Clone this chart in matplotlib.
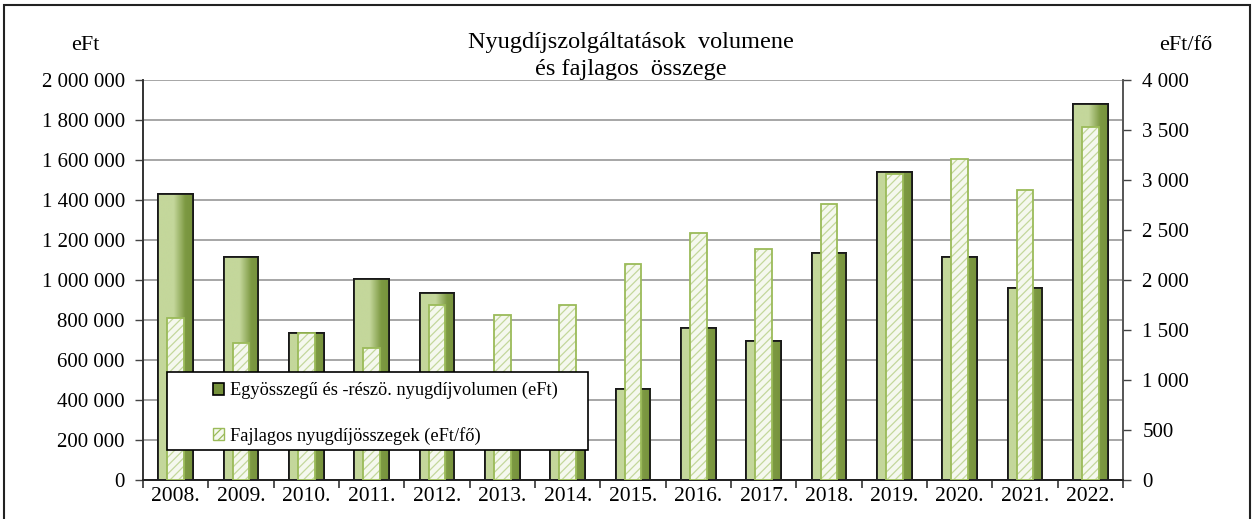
import numpy as np
import matplotlib
matplotlib.use("Agg")
import matplotlib.pyplot as plt
from matplotlib.patches import Patch, Rectangle
from matplotlib.colors import LinearSegmentedColormap
from matplotlib.ticker import FuncFormatter, FixedLocator

# ---- data ----
years = ["2008.", "2009.", "2010.", "2011.", "2012.", "2013.", "2014.", "2015.",
         "2016.", "2017.", "2018.", "2019.", "2020.", "2021.", "2022."]
volume_eft = [1428000, 1113000, 737000, 1003000, 937000, 420000, 372000, 455000,
              758000, 695000, 1137000, 1542000, 1113000, 958000, 1880000]
per_capita_eft = [1617, 1373, 1467, 1323, 1755, 1650, 1750, 2160,
                  2467, 2307, 2757, 3065, 3210, 2905, 3535]
left_ticks = [0, 200000, 400000, 600000, 800000, 1000000, 1200000, 1400000,
              1600000, 1800000, 2000000]
right_ticks = [0, 500, 1000, 1500, 2000, 2500, 3000, 3500, 4000]
title_text = "Nyugdíjszolgáltatások  volumene\nés fajlagos  összege"
label_volume = "Egyösszegű és -részö. nyugdíjvolumen (eFt)"
label_per_capita = "Fajlagos nyugdíjösszegek (eFt/fő)"

plt.rcParams['font.family'] = ['Liberation Serif', 'DejaVu Serif']
plt.rcParams['hatch.linewidth'] = 0.9

W, H, DPI = 1253, 519, 100
fig = plt.figure(figsize=(W / DPI, H / DPI), dpi=DPI)
fig.patch.set_facecolor('white')

ax = fig.add_axes([143 / W, (H - 480) / H, (1123 - 143) / W, 400 / H])
ax2 = ax.twinx()

x = np.arange(len(years))
light = '#c4d79b'
dark = '#76923c'
cmap = LinearSegmentedColormap.from_list(
    'g', [(0, light), (0.45, light), (0.78, '#7d9942'), (1, dark)])

bars = ax.bar(x, volume_eft, width=0.53, facecolor=light, edgecolor='black',
              linewidth=1.3, zorder=2)
grad = np.linspace(0, 1, 256).reshape(1, -1)
for r in bars:
    bb = r.get_bbox()
    im = ax.imshow(grad, extent=(bb.x0, bb.x1, bb.y0, bb.y1), aspect='auto',
                   cmap=cmap, zorder=2.1, interpolation='bilinear')
    im.set_clip_path(r)
for r in bars:
    ax.add_patch(Rectangle((r.get_x(), r.get_y()), r.get_width(), r.get_height(),
                           fill=False, edgecolor='#1a1a1a', linewidth=1.3, zorder=2.2))

fmt = FuncFormatter(lambda v, p: f"{int(v):,}".replace(",", " "))
ax.set_xlim(-0.5, len(years) - 0.5)
ax.set_ylim(0, 2000000)
ax.set_yticks(left_ticks)
ax.yaxis.set_major_formatter(fmt)
ax.yaxis.grid(True, color='#a6a6a6', linewidth=1.4, zorder=0)
ax.set_axisbelow(True)

ax.set_xticks(x)
ax.set_xticklabels(years)
ax.xaxis.set_minor_locator(FixedLocator(np.arange(-0.5, len(years), 1.0)))
ax.tick_params(axis='x', which='major', length=0, pad=5, labelsize=15.5)
ax.tick_params(axis='x', which='minor', length=6, width=1.2, color='#333333',
               direction='out')
ax.tick_params(axis='y', length=6, width=1.0, color='#444444', direction='out',
               labelsize=15, pad=7)

# secondary axis: per capita (hatched)
ax2.bar(x, per_capita_eft, width=0.26, facecolor='#f5f8ee', edgecolor=light,
        hatch='////', linewidth=0, zorder=3)
ax2.bar(x, per_capita_eft, width=0.26, fill=False, edgecolor='#9bbb59',
        linewidth=1.3, zorder=3.1)
ax2.set_ylim(0, 4000)
ax2.set_yticks(right_ticks)
ax2.yaxis.set_major_formatter(fmt)
ax2.tick_params(axis='y', length=6, width=1.0, color='#444444', direction='out',
                labelsize=15, pad=8)

for a in (ax, ax2):
    a.spines['top'].set_visible(False)
    a.spines['left'].set_color('#333333')
    a.spines['right'].set_color('#555555')
    a.spines['bottom'].set_color('#222222')
    a.spines['left'].set_linewidth(1.2)
    a.spines['right'].set_linewidth(1.2)
    a.spines['bottom'].set_linewidth(1.3)

# legend: white framed box with centred entries
x0 = (167 - 143) / 980
x1 = (588 - 143) / 980
y0 = (480 - 450) / 400
y1 = (480 - 372) / 400
ax2.add_patch(Rectangle((x0, y0), x1 - x0, y1 - y0, transform=ax2.transAxes,
                        facecolor='white', edgecolor='black', linewidth=1.2,
                        zorder=9))
handles = [Patch(facecolor=dark, edgecolor='black', linewidth=1.2, label=label_volume),
           Patch(facecolor='#f5f8ee', edgecolor='#9bbb59', hatch='////', linewidth=1.0,
                 label=label_per_capita)]
leg = ax2.legend(handles=handles, loc='center',
                 bbox_to_anchor=((x0 + x1) / 2 + 0.008, (y0 + y1) / 2 - 0.006),
                 frameon=False, handlelength=0.6, handleheight=0.6,
                 handletextpad=0.3, labelspacing=1.5, fontsize=13.2)
leg.set_zorder(10)

fig.text(631 / W, 1 - 56 / H, title_text, ha='center', va='center',
         fontsize=17.5, linespacing=1.4)
fig.text(85 / W, 1 - 45 / H, "eFt", ha='center', va='center', fontsize=16)
fig.text(1186 / W, 1 - 45 / H, "eFt/fő", ha='center', va='center', fontsize=16)

fig.add_artist(Rectangle((3.5 / W, -0.1), (1250 - 3.5) / W, 1.1 - 5.5 / H,
                         transform=fig.transFigure, fill=False,
                         edgecolor='#222222', linewidth=1.5))

fig.savefig("out.png", dpi=DPI)
